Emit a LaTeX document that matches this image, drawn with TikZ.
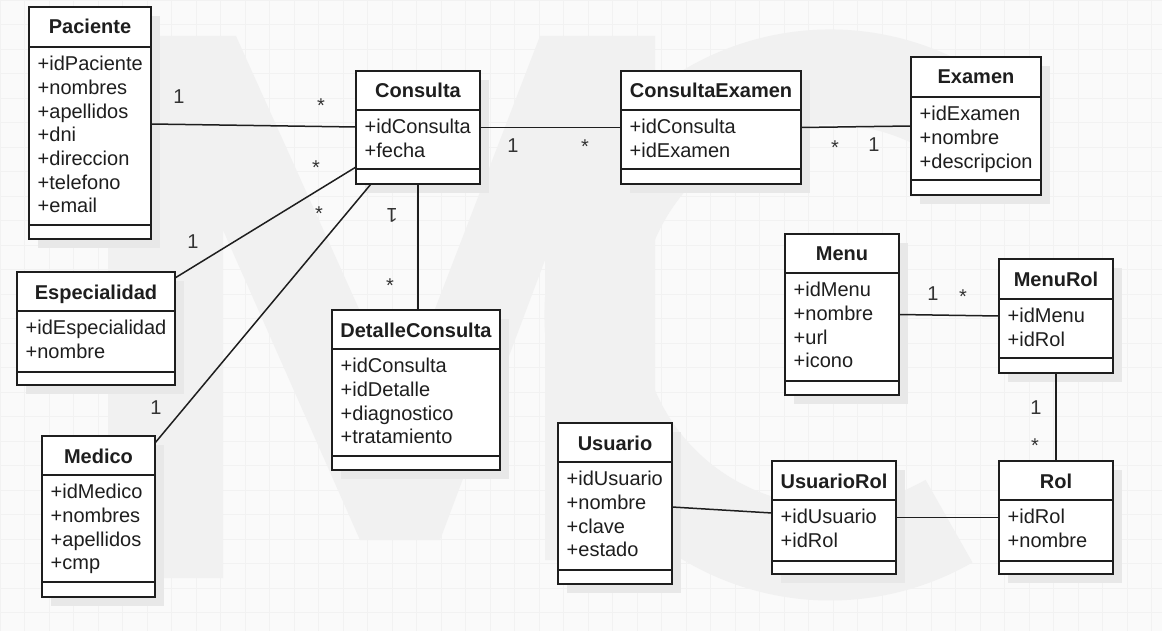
\documentclass[tikz,border=0pt]{standalone}
\usepackage{fontspec}
\setmainfont{Liberation Sans}
\usetikzlibrary{calc}
\definecolor{ink}{HTML}{1E1E1E}
\definecolor{lbl}{HTML}{333333}
\definecolor{bg}{HTML}{FAFAFA}
\definecolor{gridc}{HTML}{F2F2F2}
\definecolor{wm}{HTML}{F1F1F1}
\definecolor{shd}{HTML}{E8E8E8}
\tikzset{
  classbox/.style={draw=ink, line width=1.8pt, fill=white, inner sep=0pt, outer sep=0pt},
  sepline/.style={draw=ink, line width=1.8pt},
  shadowbox/.style={fill=shd},
  ctitle/.style={font=\bfseries\fontsize{20}{24}\selectfont, text=ink, inner sep=0pt, anchor=base},
  cattr/.style={font=\fontsize{20}{24}\selectfont, text=ink, inner sep=0pt, anchor=base west},
  assoc/.style={draw=ink, line width=1.5pt},
  mult/.style={font=\fontsize{20}{24}\selectfont, text=lbl, inner sep=0pt},
}
% name, x1, y1, x2, y2, header line, attribute line, title, attributes
\newcommand\umlclass[9]{%
  \fill[shadowbox] (#2+9,#3+9) rectangle (#4+9,#5+9);
  \node[classbox, anchor=north west, minimum width={(#4-#2)*1pt}, minimum height={(#5-#3)*1pt}] (#1) at (#2,#3) {};
  \draw[sepline] (#2,#6) -- (#4,#6) (#2,#7) -- (#4,#7);
  \node[ctitle] (#1-t) at ({(#2+#4)/2},{#3+27}) {#8};
  \foreach \a [count=\i] in {#9} {\node[cattr] (#1-a\i) at ({#2+8.5},{#6+23.7*\i}) {\a};}
}
\begin{document}
\begin{tikzpicture}[x=1pt,y=-1pt]
\useasboundingbox (0,0) rectangle (1162,631);
\fill[bg] (0,0) rectangle (1162,631);
\draw[gridc, line width=0.5pt, step=24.5pt] (0,0) grid (1162,631);
% watermark
\fill[wm] (108,578) -- (108,36) -- (236,36) -- (400,400) -- (540,36) -- (655,36) -- (655,560)
  -- (545,560) -- (545,260) -- (440,540) -- (360,540) -- (223,230) -- (223,578) -- cycle;
\draw[wm, line width=95pt] ($(830,315)+(-65:238)$) arc[start angle=-65, end angle=-300, radius=238];
% classes
\umlclass{pac}{29}{7}{151}{239}{47}{225}{Paciente}{+idPaciente,+nombres,+apellidos,+dni,+direccion,+telefono,+email}
\umlclass{con}{356}{71}{480}{184}{110}{169}{Consulta}{+idConsulta,+fecha}
\umlclass{ce}{621}{71}{801}{184}{110}{169}{ConsultaExamen}{+idConsulta,+idExamen}
\umlclass{ex}{911}{57}{1041}{195}{97}{180}{Examen}{+idExamen,+nombre,+descripcion}
\umlclass{esp}{17}{272}{175}{385}{311}{372}{Especialidad}{+idEspecialidad,+nombre}
\umlclass{med}{42}{436}{155}{597}{475}{582}{Medico}{+idMedico,+nombres,+apellidos,+cmp}
\umlclass{dc}{332}{310}{500}{470}{349}{456}{DetalleConsulta}{+idConsulta,+idDetalle,+diagnostico,+tratamiento}
\umlclass{menu}{785}{234}{899}{395}{273}{381}{Menu}{+idMenu,+nombre,+url,+icono}
\umlclass{mr}{999}{259}{1113}{373}{299}{358}{MenuRol}{+idMenu,+idRol}
\umlclass{usu}{558}{423}{672}{584}{462}{570}{Usuario}{+idUsuario,+nombre,+clave,+estado}
\umlclass{ur}{772}{461}{896}{574}{500}{561}{UsuarioRol}{+idUsuario,+idRol}
\umlclass{rol}{999}{461}{1113}{574}{500}{561}{Rol}{+idRol,+nombre}
% associations
\draw[assoc] ([yshift=-1pt]pac.east) -- ([yshift=0.5pt]con.west);
\draw[assoc] (con.east) -- (ce.west);
\draw[assoc] (ce.east) -- (ex.west);
\draw[assoc] ([yshift=-6pt]esp.north east) -- ([yshift=17pt]con.south west);
\draw[assoc] ([yshift=-7pt]med.north east) -- ([xshift=15pt]con.south west);
\draw[assoc] (con.south) -- (con.south |- dc.north);
\draw[assoc] (menu.east) -- (mr.west);
\draw[assoc] (mr.south) -- (mr.south |- rol.north);
\draw[assoc] ([yshift=-3.5pt]usu.east) -- ([yshift=4.5pt]ur.west);
\draw[assoc] (ur.east) -- (rol.west);
% multiplicities
\node[mult] (m1) at (179,97) {1};
\node[mult] (m2) at (321,105.5) {*};
\node[mult] (m3) at (316,167.5) {*};
\node[mult] (m4) at (319,213.5) {*};
\node[mult] (m5) at (193,242) {1};
\node[mult] (m6) at (156,408) {1};
\node[mult, rotate=180] (m7) at (392,215) {1};
\node[mult] (m8) at (390,285.5) {*};
\node[mult] (m9) at (513,146) {1};
\node[mult] (m10) at (585,146.5) {*};
\node[mult] (m11) at (835,147.5) {*};
\node[mult] (m12) at (874,145) {1};
\node[mult] (m13) at (933,294) {1};
\node[mult] (m14) at (963,296.5) {*};
\node[mult] (m15) at (1036,408) {1};
\node[mult] (m16) at (1035,445.5) {*};
\end{tikzpicture}
\end{document}
